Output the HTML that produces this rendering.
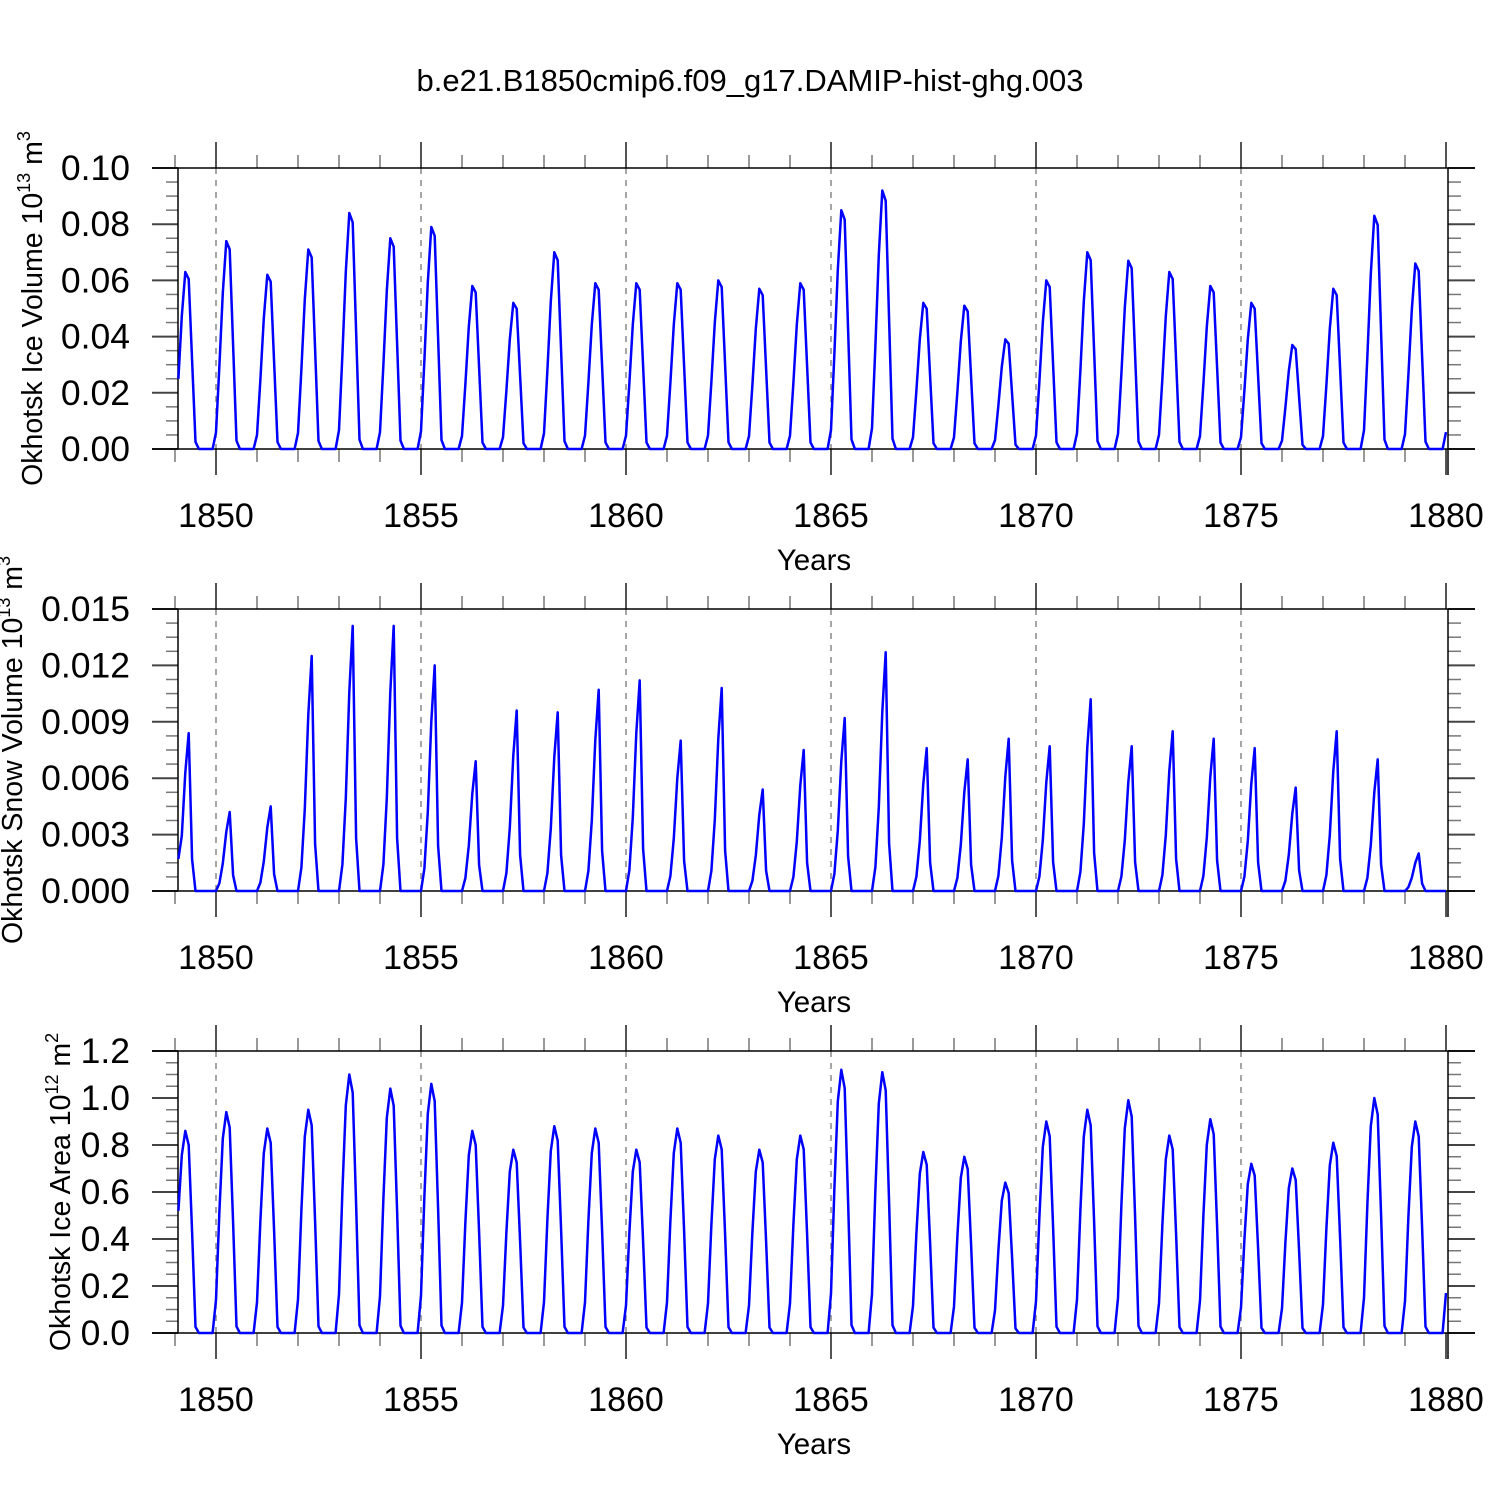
<!DOCTYPE html>
<html><head><meta charset="utf-8"><style>
body{margin:0;background:#fff}
svg text{font-family:"Liberation Sans",Arial,sans-serif;fill:#000}
</style></head><body>
<svg id="c" width="1500" height="1500" xmlns="http://www.w3.org/2000/svg">
<text x="750" y="91" font-size="31" text-anchor="middle">b.e21.B1850cmip6.f09_g17.DAMIP-hist-ghg.003</text>
</svg>
<script>
const years = [1849,1850,1851,1852,1853,1854,1855,1856,1857,1858,1859,1860,1861,1862,1863,1864,1865,1866,1867,1868,1869,1870,1871,1872,1873,1874,1875,1876,1877,1878,1879];
const icePeaks = [0.063,0.074,0.062,0.071,0.084,0.075,0.079,0.058,0.052,0.070,0.059,0.059,0.059,0.060,0.057,0.059,0.085,0.092,0.052,0.051,0.039,0.060,0.070,0.067,0.063,0.058,0.052,0.037,0.057,0.083,0.066];
const snowPeaks = [0.0084,0.0042,0.0045,0.0125,0.0141,0.0141,0.0120,0.0069,0.0096,0.0095,0.0107,0.0112,0.0080,0.0108,0.0054,0.0075,0.0092,0.0127,0.0076,0.0070,0.0081,0.0077,0.0102,0.0077,0.0085,0.0081,0.0076,0.0055,0.0085,0.0070,0.0020];
const areaPeaks = [0.86,0.94,0.87,0.95,1.10,1.04,1.06,0.86,0.78,0.88,0.87,0.78,0.87,0.84,0.78,0.84,1.12,1.11,0.77,0.75,0.64,0.90,0.95,0.99,0.84,0.91,0.72,0.70,0.81,1.00,0.90];
const iceProfile = [0.08,0.4,0.75,1.0,0.96,0.5,0.04,0,0,0,0,0];
const snowProfile = [0.0,0.1,0.35,0.75,1.0,0.2,0,0,0,0,0,0];
const areaProfile = [0.15,0.55,0.88,1.0,0.93,0.5,0.03,0,0,0,0,0];
const endValues = [0.006,0.0,0.17];
const xTickYears = [1850,1855,1860,1865,1870,1875,1880];
const ice1849Start = 0.025, area1849Start = 0.52, snow1849Start = 0.0017;

const NS="http://www.w3.org/2000/svg", svg=document.getElementById('c');
function el(t,a,p){const e=document.createElementNS(NS,t);for(const k in a)e.setAttribute(k,a[k]);(p||svg).appendChild(e);return e;}
const X0=178,X1=1448;
function xs(t){return 216+(t-1850)*41;}

function series(peaks,profile,endV,startV){
  const pts=[];
  for(let i=0;i<372;i++){
    const t=1849+(i+1)/12;
    const k=(i+1)%12, Y=Math.floor(1849+(i+1)/12+1e-9);
    let v;
    if(i===0) v=startV;
    else if(i===371) v=endV;
    else v=peaks[Y-1849]*profile[k];
    pts.push([t,v]);
  }
  return pts;
}

const panels=[
 {name:'ice-volume',top:168,bot:449,max:0.10,major:0.02,minor:0.005,dec:2,title:'Okhotsk Ice Volume 10',exp:'13',unit:' m',uexp:'3',tx:32,data:series(icePeaks,iceProfile,endValues[0],ice1849Start)},
 {name:'snow-volume',top:609,bot:891,max:0.015,major:0.003,minor:0.00075,dec:3,title:'Okhotsk Snow Volume 10',exp:'13',unit:' m',uexp:'3',tx:12,data:series(snowPeaks,snowProfile,endValues[1],snow1849Start)},
 {name:'ice-area',top:1051,bot:1333,max:1.2,major:0.2,minor:0.05,dec:1,title:'Okhotsk Ice Area 10',exp:'12',unit:' m',uexp:'2',tx:60,data:series(areaPeaks,areaProfile,endValues[2],area1849Start)}
];

panels.forEach(p=>{
  const g=el('g',{});
  
  
  const ys=v=>p.bot-(v/p.max)*(p.bot-p.top);
  for(let y=1850;y<=1875;y+=5){
    const l=el('line',{x1:xs(y),x2:xs(y),y1:p.top,y2:p.bot,stroke:'#888','stroke-width':1.5,'stroke-dasharray':'6,6'},g);
    
    
  }
  for(let y=1849;y<=1880;y++){
    if(y%5===0) continue;
    el('line',{x1:xs(y),x2:xs(y),y1:p.bot,y2:p.bot+13,stroke:'#777','stroke-width':1.5},g);
    el('line',{x1:xs(y),x2:xs(y),y1:p.top,y2:p.top-13,stroke:'#777','stroke-width':1.5},g);
  }
  xTickYears.forEach(y=>{
    el('line',{x1:xs(y),x2:xs(y),y1:p.bot,y2:p.bot+26,stroke:'#555','stroke-width':2},g);
    el('line',{x1:xs(y),x2:xs(y),y1:p.top,y2:p.top-26,stroke:'#555','stroke-width':2},g);
    const t=el('text',{x:xs(y),y:p.bot+78,'font-size':34,'text-anchor':'middle'},g);
    t.textContent=y;
    
    
  });
  const nmin=Math.round(p.max/p.minor);
  for(let i=0;i<=nmin;i++){
    const v=i*p.minor, y=ys(v);
    if(i%4===0){
      el('line',{x1:152,x2:X0,y1:y,y2:y,stroke:'#444','stroke-width':2},g);
      el('line',{x1:X1,x2:1475,y1:y,y2:y,stroke:'#444','stroke-width':2},g);
      const t=el('text',{x:130,y:y+12,'font-size':35.5,'text-anchor':'end'},g);
      t.textContent=v.toFixed(p.dec);
      
      
    } else {
      el('line',{x1:X0-12,x2:X0,y1:y,y2:y,stroke:'#777','stroke-width':1.5},g);
      el('line',{x1:X1,x2:X1+13,y1:y,y2:y,stroke:'#777','stroke-width':1.5},g);
    }
  }
  el('line',{x1:152,x2:1475,y1:p.top,y2:p.top,stroke:'#000','stroke-width':1.5},g);
  el('line',{x1:152,x2:1475,y1:p.bot,y2:p.bot,stroke:'#000','stroke-width':1.5},g);
  el('line',{x1:X0,x2:X0,y1:p.top,y2:p.bot,stroke:'#000','stroke-width':1.5},g);
  el('line',{x1:X1,x2:X1,y1:p.top,y2:p.bot+26,stroke:'#000','stroke-width':1.5},g);
  const path=el('polyline',{points:p.data.map(d=>xs(d[0]).toFixed(1)+','+ys(d[1]).toFixed(1)).join(' '),fill:'none',stroke:'#0000ff','stroke-width':2.5,'stroke-linejoin':'round'},g);
  
  
  const xt=el('text',{x:814,y:p.bot+121,'font-size':29.5,'text-anchor':'middle'},g);
  xt.textContent='Years';
  
  
  const cy=(p.top+p.bot)/2;
  const yt=el('text',{x:0,y:0,'font-size':28.5,'text-anchor':'middle',transform:'translate('+(p.tx+10)+','+cy+') rotate(-90)'},g);
  
  
  const a=el('tspan',{},yt);a.textContent=p.title;
  const b=el('tspan',{'font-size':18,dy:-12},yt);b.textContent=p.exp;
  const c=el('tspan',{dy:12},yt);c.textContent=p.unit;
  const d=el('tspan',{'font-size':18,dy:-12},yt);d.textContent=p.uexp;
});
</script>
</body></html>
